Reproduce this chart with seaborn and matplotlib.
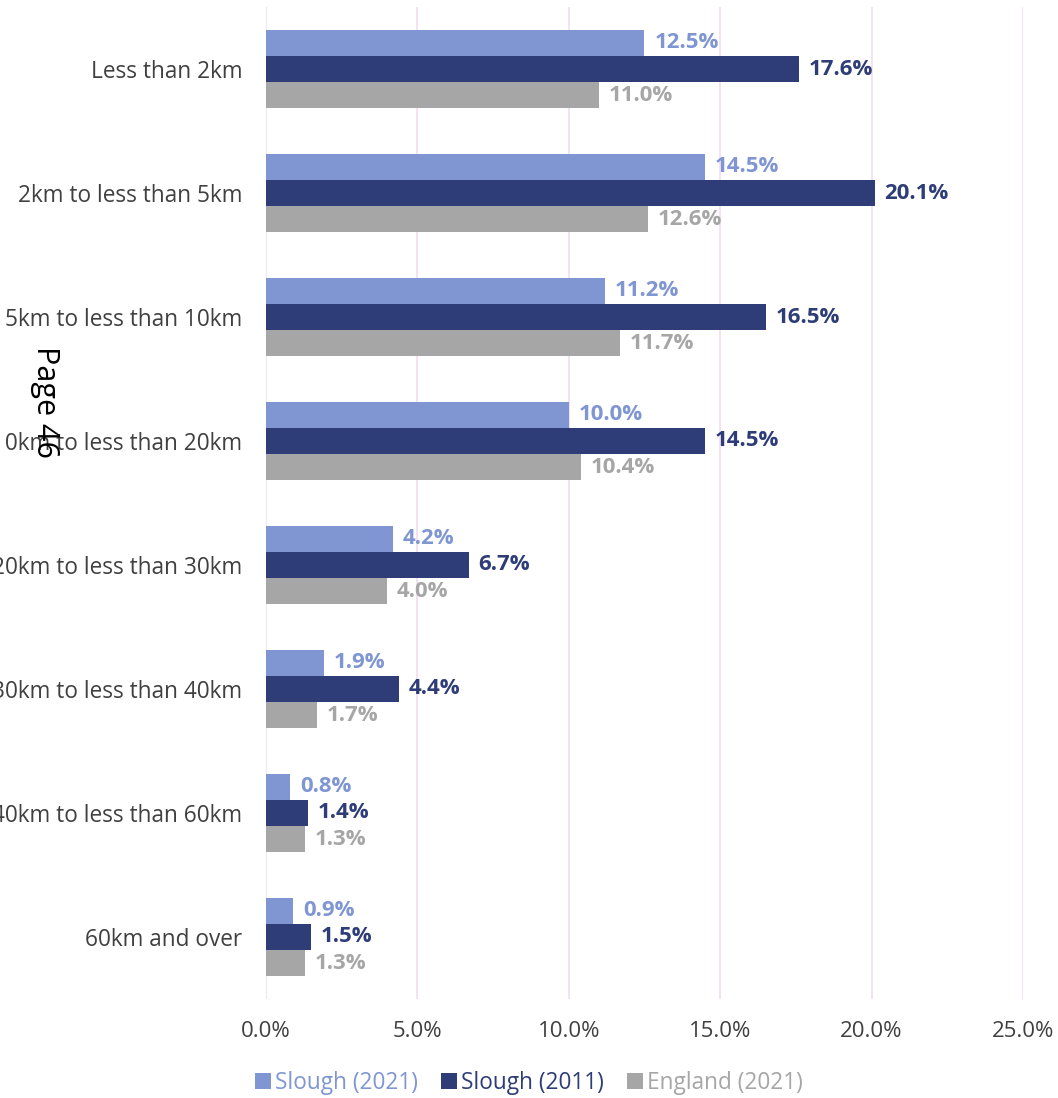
import matplotlib
matplotlib.use("Agg")
import matplotlib.pyplot as plt
import seaborn as sns
import pandas as pd
from matplotlib.ticker import FuncFormatter

categories = ["Less than 2km", "2km to less than 5km", "5km to less than 10km",
              "10km to less than 20km", "20km to less than 30km",
              "30km to less than 40km", "40km to less than 60km", "60km and over"]
series_names = ["Slough (2021)", "Slough (2011)", "England (2021)"]
slough_2021 = [12.5, 14.5, 11.2, 10.0, 4.2, 1.9, 0.8, 0.9]
slough_2011 = [17.6, 20.1, 16.5, 14.5, 6.7, 4.4, 1.4, 1.5]
england_2021 = [11.0, 12.6, 11.7, 10.4, 4.0, 1.7, 1.3, 1.3]
colors = ["#7F96D3", "#2E3D78", "#A6A6A6"]

rows = []
for name, vals in zip(series_names, [slough_2021, slough_2011, england_2021]):
    for c, v in zip(categories, vals):
        rows.append({"Distance": c, "Series": name, "Value": v})
df = pd.DataFrame(rows)

sns.set_theme(style="white")
plt.rcParams["font.family"] = ["Open Sans", "DejaVu Sans"]

fig = plt.figure(figsize=(10.58, 10.98), dpi=100)
ax = fig.add_axes([0.2514, 0.0902, 0.7155, 0.9034])

sns.barplot(data=df, x="Value", y="Distance", hue="Series", order=categories,
            hue_order=series_names, palette=colors, orient="h", width=0.63,
            saturation=1, ax=ax, legend=True, errorbar=None, linewidth=0)

for cont, col in zip(ax.containers, colors):
    ax.bar_label(cont, labels=[f"{v:.1f}%" for v in cont.datavalues], padding=7,
                 color=col, fontsize=16, fontweight="bold")

ax.set_xlim(0, 25)
ax.set_ylim(7.5, -0.5)
ax.set_xticks([0, 5, 10, 15, 20, 25])
ax.xaxis.set_major_formatter(FuncFormatter(lambda x, p: f"{x:.1f}%"))
ax.grid(axis="x", color="#F0DDF0", linewidth=1.2)
ax.grid(axis="y", visible=False)
ax.set_axisbelow(True)
for s in ax.spines.values():
    s.set_visible(False)
ax.set_xlabel("")
ax.set_ylabel("")
ax.tick_params(axis="x", labelsize=16, colors="#404040", pad=16, length=0)
ax.tick_params(axis="y", labelsize=16.3, colors="#404040", pad=17, length=0)

handles, labels = ax.get_legend_handles_labels()
ax.get_legend().remove()
leg = fig.legend(handles, labels, loc="center", bbox_to_anchor=(0.5, 0.014),
                 ncol=3, frameon=False, fontsize=16.3, handlelength=0.7,
                 handleheight=0.7, handletextpad=0.2, columnspacing=1.0)
for t, col in zip(leg.get_texts(), colors):
    t.set_color(col)

fig.text(0.043, 0.634, "Page 46", rotation=-90, fontsize=22, color="black",
         ha="center", va="center", family=["Open Sans", "DejaVu Sans"])

fig.savefig("out.png", dpi=100)
